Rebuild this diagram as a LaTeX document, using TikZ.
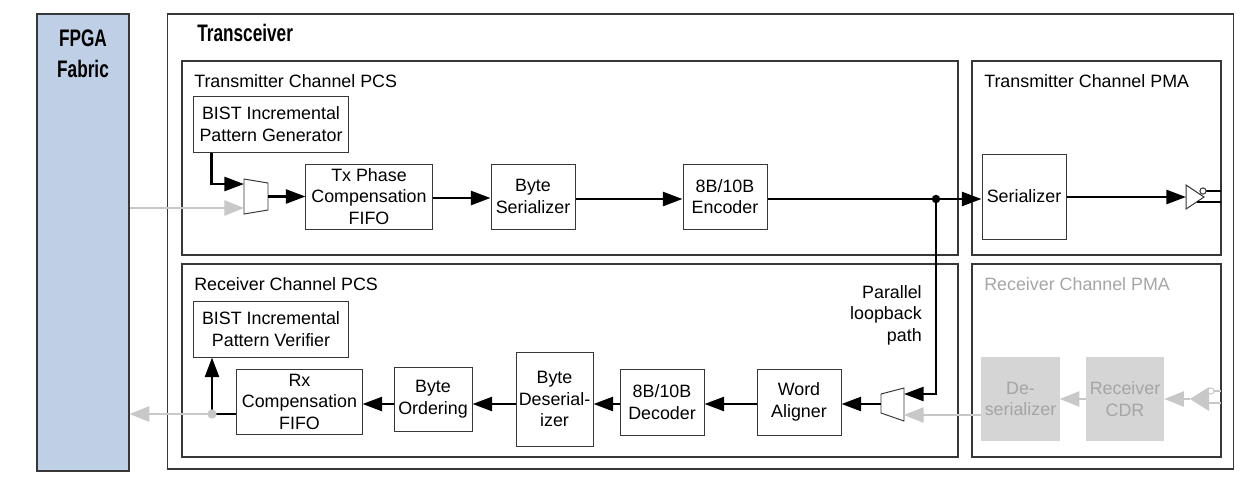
\documentclass[tikz,border=0pt]{standalone}
\usepackage{fontspec}
\setmainfont{Liberation Sans}
\newfontfamily\headfont[FakeStretch=0.72]{Liberation Sans}
\usetikzlibrary{arrows.meta,positioning,calc}
\definecolor{fabricblue}{RGB}{191,207,229}
\definecolor{edgegray}  {RGB}{ 55, 55, 55}
\definecolor{wiregray}  {RGB}{200,200,200}
\definecolor{pmatext}   {RGB}{165,165,165}
\definecolor{pmafill}   {RGB}{213,213,213}

\begin{document}
\begin{tikzpicture}[x=0.025cm,y=-0.025cm,
  every node/.style={font=\fontsize{12.7}{15.3}\selectfont},
  panel/.style={draw=edgegray,line width=0.9pt,inner sep=0pt},
  blk/.style={draw=edgegray,line width=0.7pt,fill=white,align=center,inner sep=1pt,
              minimum width=2.1cm,minimum height=1.65cm},
  pmablk/.style={fill=pmafill,text=pmatext,align=center,inner sep=1pt,
              minimum width=1.95cm,minimum height=2.1cm},
  title/.style={anchor=west,inner sep=0pt},
  head/.style={font=\headfont\bfseries\fontsize{17}{22}\selectfont,inner sep=0pt},
  arr/.style={-{Triangle[length=14pt,width=10pt]},line width=1.8pt},
  garr/.style={wiregray,-{Triangle[length=14pt,width=11pt]},line width=0.9pt},
]
\useasboundingbox (0,0) rectangle (1252,483);

%% ── Frames ─────────────────────────────────────────────────────────────
\node[panel,fill=fabricblue,minimum width=2.3cm,minimum height=11.425cm] (fabric) at (83,242.5) {};
\node[head,align=center,anchor=north] (fabriclbl) at (83,30) {FPGA\\Fabric};
\node[panel,minimum width=26.625cm,minimum height=11.375cm] (xcvr) at (700.5,241.5) {};
\node[head,anchor=west] (xcvrlbl) at (197,32.5) {Transceiver};

\node[panel,minimum width=19.4cm,minimum height=4.85cm]   (txpcs) at (570,158) {};
\node[panel,minimum width=6.225cm,minimum height=4.85cm]  (txpma) at (1096.5,158) {};
\node[panel,minimum width=19.4cm,minimum height=4.825cm]  (rxpcs) at (570,360.5) {};
\node[panel,minimum width=6.225cm,minimum height=4.825cm] (rxpma) at (1096.5,360.5) {};
\node[title] (txpcslbl) at (194,81)  {Transmitter Channel PCS};
\node[title] (txpmalbl) at (984,81)  {Transmitter Channel PMA};
\node[title] (rxpcslbl) at (194,284.5) {Receiver Channel PCS};
\node[title,text=pmatext] (rxpmalbl) at (984,284.5) {Receiver Channel PMA};

%% ── Transmitter ────────────────────────────────────────────────────────
\node[blk,minimum width=3.85cm,minimum height=1.4cm] (bistgen) at (271,124) {BIST Incremental\\Pattern Generator};
\draw[edgegray,line width=0.7pt,fill=white] (244,179) -- (268,183) -- (268,210) -- (244,214) -- cycle;
\coordinate (txmuxa) at (244,184);
\coordinate (txmuxb) at (244,208);
\coordinate (txmuxo) at (268,196.5);
\node[blk,minimum width=3.15cm,minimum height=1.625cm] (txfifo) at (369,196.5) {Tx Phase\\Compensation\\FIFO};
\node[blk,minimum height=1.625cm] (byteser) at (533,196.5) {Byte\\Serializer};
\node[blk,minimum height=1.625cm] (enc) at (725,196.5) {8B/10B\\Encoder};
\node[blk,minimum height=2.125cm] (ser) at (1024,196.5) {Serializer};
\coordinate (lbdot) at (936,199);

% output buffer
\draw[edgegray,line width=0.7pt,fill=white] (1186,185) -- (1204,197) -- (1186,209) -- cycle;
\coordinate (txbuf) at (1186,197);
\draw[line width=1.8pt] (1205.5,191) -- (1221,191);
\draw[line width=1.8pt] (1197,202) -- (1221,202);
\draw[edgegray,line width=0.7pt,fill=white] (1203,191) circle (2.2pt);

\draw[arr] ([xshift=0.45cm]bistgen.south west) |- (txmuxa);
\draw[garr] (fabric.east |- txmuxb) -- (txmuxb);
\draw[arr] (txmuxo) -- (txfifo.west |- txmuxo);
\draw[arr] (txfifo.east |- 0,198) -- (byteser.west |- 0,198);
\draw[arr] (byteser.east |- lbdot) -- (enc.west |- lbdot);
\draw[arr] (enc.east |- lbdot) -- (lbdot) -- (ser.west |- lbdot);
\draw[arr] (ser.east |- txbuf) -- (txbuf);
\fill (lbdot) circle (3pt);

%% ── Receiver ───────────────────────────────────────────────────────────
\node[blk,minimum width=3.85cm,minimum height=1.4cm] (bistver) at (271,329) {BIST Incremental\\Pattern Verifier};
\node[blk,minimum width=3.125cm,minimum height=1.625cm] (rxfifo) at (299.5,401.5) {Rx\\Compensation\\FIFO};
\node[blk,minimum width=1.95cm,minimum height=1.6cm] (byteord) at (433,399) {Byte\\Ordering};
\node[blk,minimum width=1.925cm,minimum height=2.35cm] (bytedes) at (554.5,399) {Byte\\Deserial-\\izer};
\node[blk] (dec) at (662,402) {8B/10B\\Decoder};
\node[blk] (wal) at (799,402) {Word\\Aligner};
\draw[edgegray,line width=0.7pt,fill=white] (881,394) -- (904,388) -- (904,421) -- (881,413) -- cycle;
\coordinate (rxmuxa) at (904,394);
\coordinate (rxmuxb) at (904,415);
\coordinate (rxmuxo) at (881,404);
\coordinate (rxtap) at (212,414);
\node[align=right,anchor=east,inner sep=0pt] (lblbl) at (922,315) {Parallel\\loopback\\path};

\node[pmablk] (deser) at (1020.5,399) {De-\\serializer};
\node[pmablk] (cdr) at (1125,399) {Receiver\\CDR};

% input buffer
\draw[wiregray,line width=0.8pt] (1213,391) -- (1221,391);
\draw[wiregray,line width=0.8pt] (1205,403) -- (1221,403);
\fill[wiregray] (1190,399) -- (1209,387) -- (1209,411) -- cycle;
\coordinate (rxbuf) at (1190,399);
\draw[wiregray,line width=0.7pt,fill=white] (1211,391) circle (2.2pt);

\draw[arr] (lbdot) |- (rxmuxa);
\draw[garr] (deser.west |- rxmuxb) -- (rxmuxb);
\draw[arr] (rxmuxo) -- (wal.east |- rxmuxo);
\draw[arr] (wal.west |- rxmuxo) -- (dec.east |- rxmuxo);
\draw[arr] (dec.west |- rxmuxo) -- (bytedes.east |- rxmuxo);
\draw[arr] (bytedes.west |- rxmuxo) -- (byteord.east |- rxmuxo);
\draw[arr] (byteord.west |- rxmuxo) -- (rxfifo.east |- rxmuxo);
\draw[line width=1.8pt] (rxfifo.west |- rxtap) -- (rxtap);
\draw[arr] (rxtap) -- (bistver.south -| rxtap);
\draw[garr] (rxtap) -- (fabric.east |- rxtap);
\fill[wiregray] (rxtap) circle (3.3pt);
\draw[garr] (cdr.west) -- (deser.east);
\draw[garr] (rxbuf) -- (cdr.east);

\end{tikzpicture}
\end{document}
